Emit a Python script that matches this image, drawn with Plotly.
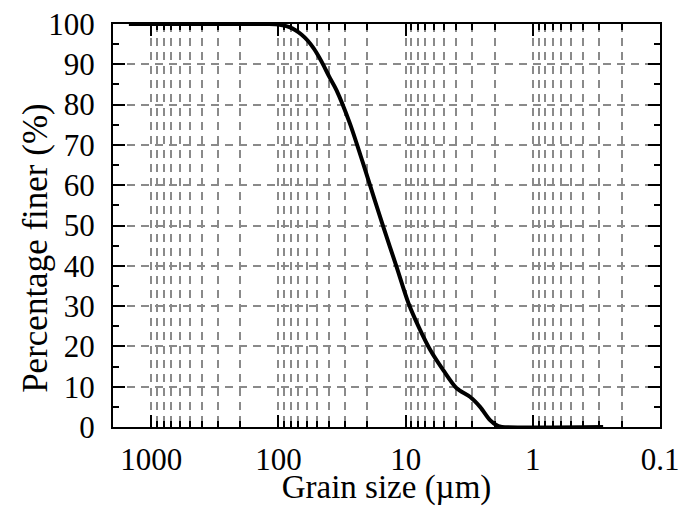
import plotly.graph_objects as go
import numpy as np

# Data
grain_size_um = [1500, 120, 100, 90, 82, 74, 66, 59, 53, 48, 44, 40, 35, 27.5, 21.6, 17.5, 15,
                 11.8, 9.5, 7.7, 6.4, 5.06, 3.97, 3.12, 2.6, 2.17, 1.87, 1.75, 0.28]
percent_finer = [100, 100, 99.9, 99.6, 99.2, 98.5, 97.4, 95.9, 94.0, 91.8, 89.6, 87.0, 83.6, 75.4, 65.4, 56.3, 49.7,
                 39.8, 30.7, 24.1, 19.1, 14.1, 9.6, 7.5, 5.0, 1.7, 0.2, 0, 0]

x_tick_vals = [1000, 100, 10, 1, 0.1]
x_tick_text = ["1000", "100", "10", "1", "0.1"]
minor_mults = [2, 3, 4, 5, 6, 7, 8, 9]
decades = [0.1, 1, 10, 100]
x_minor_vals = [m * d for d in decades for m in minor_mults]

y_tick_vals = [0, 10, 20, 30, 40, 50, 60, 70, 80, 90, 100]

FONT = "'Liberation Serif', 'Times New Roman', Times, serif"
GRID = "#8a8a8a"

fig = go.Figure()
fig.add_trace(go.Scatter(
    x=grain_size_um, y=percent_finer, mode="lines",
    line=dict(color="black", width=4, shape="spline", smoothing=0.8),
    showlegend=False, cliponaxis=False,
))

fig.update_layout(
    width=694, height=506,
    margin=dict(l=113, r=34, t=24, b=79),
    paper_bgcolor="white", plot_bgcolor="white",
    font=dict(family=FONT, size=32, color="black"),
    xaxis=dict(
        type="log", range=[np.log10(2000), -1], automargin=False,
        tickmode="array", tickvals=x_tick_vals, ticktext=x_tick_text,
        ticks="inside", ticklen=12, tickwidth=2, tickcolor="black",
        showline=True, linecolor="black", linewidth=2, mirror="ticks",
        showgrid=True, gridcolor=GRID, gridwidth=1.5, griddash="8px,6px",
        minor=dict(tickmode="array", tickvals=x_minor_vals, ticks="inside", ticklen=6,
                   tickwidth=1.5, tickcolor="black", showgrid=True, gridcolor=GRID,
                   gridwidth=1.5, griddash="8px,6px"),
        tickfont=dict(family=FONT, size=31),
        ticklabelstandoff=4,
        title=dict(text="Grain size (µm)", font=dict(family=FONT, size=33), standoff=2),
        zeroline=False,
    ),
    yaxis=dict(
        range=[0, 100], automargin=False,
        tickmode="array", tickvals=y_tick_vals,
        ticks="inside", ticklen=12, tickwidth=2, tickcolor="black",
        showline=True, linecolor="black", linewidth=2, mirror="ticks",
        showgrid=True, gridcolor=GRID, gridwidth=1.5, griddash="8px,6px",
        minor=dict(dtick=5, ticks="inside", ticklen=6, tickwidth=1.5, tickcolor="black",
                   showgrid=False),
        tickfont=dict(family=FONT, size=31),
        ticklabelstandoff=10,
        zeroline=False,
    ),
    annotations=[dict(
        text="Percentage finer (%)", textangle=-90,
        xref="paper", yref="paper", x=-0.143, y=0.444,
        xanchor="center", yanchor="middle", showarrow=False,
        font=dict(family=FONT, size=35, color="black"),
    )],
)

fig.write_html("out.html", config={"displayModeBar": False},
               post_script="document.body.style.margin='0';")
